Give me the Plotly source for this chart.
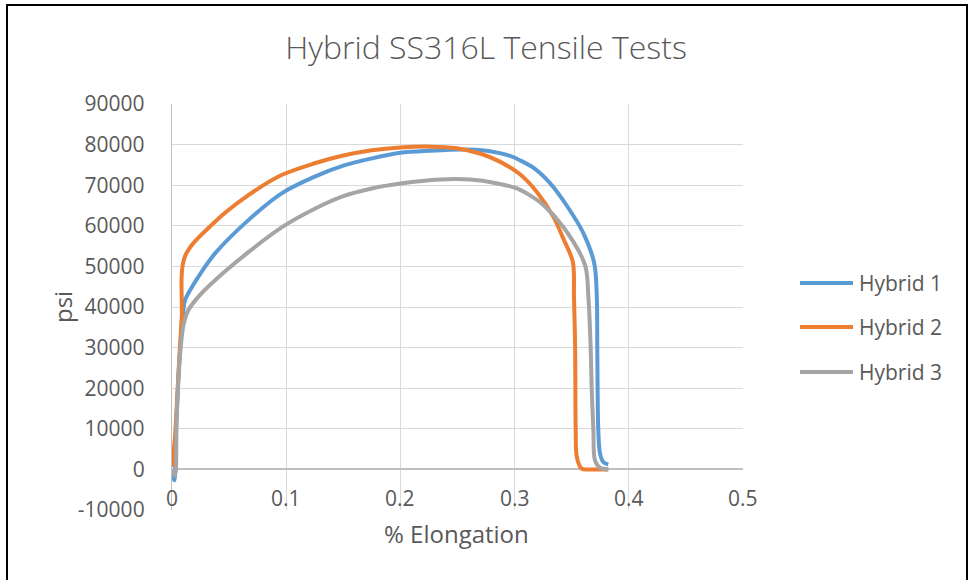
import plotly.graph_objects as go

# ---- data ----
series_names = ["Hybrid 1", "Hybrid 2", "Hybrid 3"]
series_colors = ["#5B9BD5", "#ED7D31", "#A5A5A5"]

h1_x = [0, 0.002, 0.004, 0.007, 0.010, 0.0114, 0.023, 0.0377, 0.0669, 0.096, 0.125,
        0.15, 0.175, 0.2, 0.226, 0.255, 0.2756, 0.287, 0.296, 0.305, 0.3164, 0.331, 0.3456,
        0.360, 0.3698, 0.372, 0.3724, 0.3733, 0.3748, 0.3777, 0.382]
h1_y = [0, -2700, 12900, 29300, 39200, 41700, 47400, 53200, 61400, 68000, 72100,
        74800, 76600, 78000, 78500, 78800, 78500, 77900, 77200, 76100, 74300, 70500, 65000,
        58300, 50700, 42500, 30100, 9600, 3900, 1800, 1200]

h2_x = [0, 0.0026, 0.0055, 0.0085, 0.0114, 0.0377, 0.0669, 0.096, 0.125, 0.15,
        0.175, 0.2, 0.226, 0.249, 0.2697, 0.287, 0.3047, 0.3193, 0.334, 0.3427, 0.351,
        0.352, 0.353, 0.3535, 0.3545, 0.3587, 0.365, 0.382]
h2_y = [600, 8000, 22800, 37500, 52500, 61000, 67550, 72500, 75400, 77300,
        78600, 79300, 79500, 79100, 77800, 75800, 72700, 68400, 62200, 56800, 51100,
        42500, 30100, 10000, 3000, 200, 0, 0]

h3_x = [0, 0.0026, 0.004, 0.007, 0.010, 0.0143, 0.023, 0.0377, 0.0669, 0.096, 0.125,
        0.15, 0.175, 0.2, 0.2347, 0.261, 0.284, 0.302, 0.3135, 0.325, 0.3427, 0.3617,
        0.3646, 0.3666, 0.3675, 0.369, 0.3704, 0.3748, 0.382]
h3_y = [0, -1500, 12000, 28000, 35500, 39200, 42500, 46600, 53500, 59600, 64200,
        67300, 69200, 70400, 71400, 71400, 70500, 69200, 67500, 65200, 59700, 50300,
        42500, 30100, 20000, 9600, 2200, 400, 0]

x_ticks = [0, 0.1, 0.2, 0.3, 0.4, 0.5]
x_tick_labels = ["0", "0.1", "0.2", "0.3", "0.4", "0.5"]
y_ticks = [-10000, 0, 10000, 20000, 30000, 40000, 50000, 60000, 70000, 80000, 90000]
y_tick_labels = ["-10000", "0", "10000", "20000", "30000", "40000", "50000",
                 "60000", "70000", "80000", "90000"]

title_text = "Hybrid SS316L Tensile Tests"
x_title = "% Elongation"
y_title = "psi"

# ---- figure ----
TXT = "#595959"
FONT = "Open Sans"
xs = [h1_x, h2_x, h3_x]
ys = [h1_y, h2_y, h3_y]

fig = go.Figure()
for name, color, x, y in zip(series_names, series_colors, xs, ys):
    fig.add_trace(go.Scatter(x=x, y=y, mode="lines", name=name,
                             line=dict(color=color, width=4, shape="spline", smoothing=0.9),
                             showlegend=False))

W, H = 969, 580
L, R, T, B = 172, 226, 104, 70
pw, ph = W - L - R, H - T - B

def px2paper_x(px):
    return (px - L) / pw

def py2paper_y(py):
    return (H - B - py) / ph

annotations = []
# x tick labels inside bottom of plot
for v, lab in zip(x_ticks, x_tick_labels):
    annotations.append(dict(x=v, xref="x", y=0, yref="paper", text=lab, showarrow=False,
                            xanchor="center", yanchor="bottom", yshift=-4,
                            font=dict(family=FONT, size=21, color=TXT)))
# axis titles
annotations.append(dict(x=px2paper_x(456), y=py2paper_y(533), xref="paper", yref="paper",
                        text=x_title, showarrow=False, xanchor="center", yanchor="middle",
                        font=dict(family=FONT, size=24, color=TXT)))
annotations.append(dict(x=px2paper_x(62), y=py2paper_y(307), xref="paper", yref="paper",
                        text=y_title, showarrow=False, textangle=-90, xanchor="center",
                        yanchor="middle", font=dict(family=FONT, size=24, color=TXT)))

shapes = []
legend_y = [283, 327, 372]
for name, color, ly in zip(series_names, series_colors, legend_y):
    shapes.append(dict(type="line", xref="paper", yref="paper",
                       x0=px2paper_x(800), x1=px2paper_x(853),
                       y0=py2paper_y(ly), y1=py2paper_y(ly),
                       line=dict(color=color, width=4)))
    annotations.append(dict(x=px2paper_x(857), y=py2paper_y(ly), xref="paper", yref="paper",
                            text=name, showarrow=False, xanchor="left", yanchor="middle",
                            font=dict(family=FONT, size=21, color=TXT)))
# outer border
shapes.append(dict(type="rect", xref="paper", yref="paper",
                   x0=px2paper_x(7), x1=px2paper_x(967), y0=py2paper_y(600), y1=py2paper_y(5),
                   line=dict(color="black", width=2), fillcolor="rgba(0,0,0,0)", layer="above"))

fig.update_layout(
    width=W, height=H,
    margin=dict(l=L, r=R, t=T, b=B, autoexpand=False),
    paper_bgcolor="white", plot_bgcolor="white",
    title=dict(text=title_text, x=486 / W, y=1 - 48 / H, xanchor="center", yanchor="middle",
               font=dict(family=FONT, size=32, color=TXT, weight=300)),
    showlegend=False,
    annotations=annotations,
    shapes=shapes,
    xaxis=dict(range=[0, 0.5], tickvals=x_ticks, showticklabels=False,
               showgrid=True, gridcolor="#D9D9D9", gridwidth=1.3,
               zeroline=False, showline=False, fixedrange=True),
    yaxis=dict(range=[-10000, 90000], tickvals=y_ticks, ticktext=y_tick_labels,
               showgrid=True, gridcolor="#D9D9D9", gridwidth=1.3,
               zeroline=True, zerolinecolor="#BFBFBF", zerolinewidth=2,
               showline=True, linecolor="#BFBFBF", linewidth=1.3,
               ticks="", ticklabelstandoff=22,
               tickfont=dict(family=FONT, size=21, color=TXT), fixedrange=True),
)

fig.write_html("out.html")
